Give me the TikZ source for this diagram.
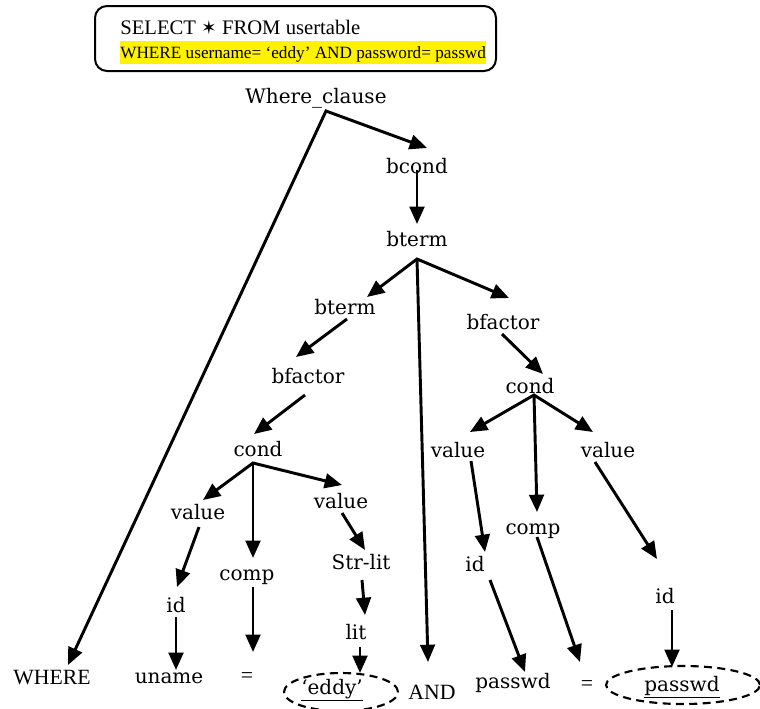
\documentclass[tikz,border=0pt]{standalone}
\usepackage{fontspec}
\setmainfont{Liberation Serif}
\newfontfamily\treefont{DejaVu Serif}
\newfontfamily\symfont{DejaVu Sans}
\usetikzlibrary{arrows.meta,calc,shapes.geometric}

\begin{document}
\begin{tikzpicture}[x=0.75pt,y=-0.75pt,
  tip/.tip={Triangle[length=13pt,width=11pt]},
  arr/.style={line width=2.2pt,-tip},
  dbl/.style={line width=2.2pt,tip-tip},
  sym/.style={font=\treefont\fontsize{15}{18}\selectfont,inner sep=0pt},
  word/.style={font=\fontsize{16.3}{19}\selectfont,inner sep=0pt},
  ring/.style={draw,ellipse,dashed,line width=1.6pt,dash pattern=on 6pt off 4pt,inner sep=0pt},
]
\useasboundingbox (0,0) rectangle (760,708);

% query box
\draw[line width=1.5pt,rounded corners=9pt] (95,6) rectangle (496,71);
\node[anchor=base west,inner sep=0pt,font=\fontsize{15.5}{18}\selectfont] (sql1) at (120,34)
  {SELECT {\symfont\fontsize{14}{14}\selectfont ✶} FROM usertable};
\node[anchor=base west,inner sep=0pt,fill=yellow,text height=12.75pt,text depth=4.5pt,
      font=\fontsize{12.9}{16}\selectfont] (sql2) at (120,58)
  {WHERE username= ‘eddy’ AND password= passwd};

% parse tree symbols
\node[sym] (wc) at (316,98) {Where\_clause};
\node[sym] (bcond) at (417,166) {bcond};
\node[sym] (bt0) at (417,239) {bterm};
\node[sym] (bt1) at (345,307) {bterm};
\node[sym] (bf2) at (503,322) {bfactor};
\node[sym] (bf1) at (308,376) {bfactor};
\node[sym] (c1) at (258,449) {cond};
\node[sym] (c2) at (530,386) {cond};
\node[sym] (v1) at (198,512) {value};
\node[sym] (v2) at (341,501) {value};
\node[sym] (v3) at (458,450) {value};
\node[sym] (v4) at (608,450) {value};
\node[sym] (comp1) at (247,577) {comp};
\node[sym] (comp2) at (533,531) {comp};
\node[sym] (strlit) at (361,562) {Str-lit};
\node[sym] (lit) at (356,632) {lit};
\node[sym] (id1) at (176,605) {id};
\node[sym] (id2) at (475,564) {id};
\node[sym] (id3) at (665,596) {id};

% tokens
\node[word] (where) at (52,678) {WHERE};
\node[sym] (uname) at (169,678) {uname};
\node[word] (eq1) at (247,678) {=};
\node[ring,minimum width=85.5pt,minimum height=28.5pt] (eddyring) at (341,692) {};
\node[sym] (eddy) at (332,690) {\underline{‘eddy’}};
\node[word] (and) at (432,692) {AND};
\node[sym] (passwd) at (513,683) {passwd};
\node[word] (eq2) at (587,686) {=};
\node[ring,minimum width=115.5pt,minimum height=28.5pt] (pwring) at (683,685) {};
\node[sym] (pw2) at (682,687) {\underline{passwd}};

% branching points
\coordinate (wcF) at ($(wc)+(10,13)$);
\coordinate (btF) at ($(bt0)+(0,20)$);
\coordinate (c1F) at ($(c1)+(-5,14)$);
\coordinate (c2F) at ($(c2)+(4,9)$);

% edges
\draw[dbl] ($(where)+(16,-13)$) -- (wcF) -- ($(bcond)+(10,-18)$);
\draw[arr] ($(bcond)+(0,4)$) -- ($(bt0)+(0,-15)$);
\draw[dbl] ($(bt1)+(22,-10)$) -- (btF) -- ($(bf2)+(6,-24)$);
\draw[arr] (btF) -- ($(and)+(-4,-30)$);
\draw[arr] ($(bt1)+(2,12)$) -- ($(bf1)+(-12,-19)$);
\draw[arr] ($(bf1)+(-3,19)$) -- ($(c1)+(-4,-15)$);
\draw[arr] ($(bf2)+(-1,12)$) -- ($(c2)+(13,-12)$);

\draw[dbl] ($(v1)+(5,-12)$) -- (c1F) -- ($(v2)+(1,-16)$);
\draw[arr] (c1F) -- ($(comp1)+(6,-19)$);
\draw[arr] ($(v2)+(1,12)$) -- ($(strlit)+(4,-12)$);
\draw[arr] ($(strlit)+(1,18)$) -- ($(lit)+(9,-17)$);
\draw[arr] ($(lit)+(4,15)$) -- ($(eddyring)+(19,-19)$);
\draw[arr] ($(v1)+(1,15)$) -- ($(id1)+(1,-18)$);
\draw[arr] ($(id1)+(0,12)$) -- ($(uname)+(7,-8)$);
\draw[arr] ($(comp1)+(6,10)$) -- ($(eq1)+(6,-26)$);

\draw[dbl] ($(v3)+(12,-18)$) -- (c2F) -- ($(v4)+(-15,-18)$);
\draw[arr] (c2F) -- ($(comp2)+(4,-19)$);
\draw[arr] ($(v3)+(13,11)$) -- ($(id2)+(10,-12)$);
\draw[arr] ($(id2)+(15,16)$) -- ($(passwd)+(12,-11)$);
\draw[arr] ($(comp2)+(4,6)$) -- ($(eq2)+(-7,-24)$);
\draw[arr] ($(v4)+(-13,12)$) -- ($(id3)+(-8,-37)$);
\draw[arr] ($(id3)+(7,14)$) -- ($(pwring)+(-11,-18)$);
\end{tikzpicture}
\end{document}
